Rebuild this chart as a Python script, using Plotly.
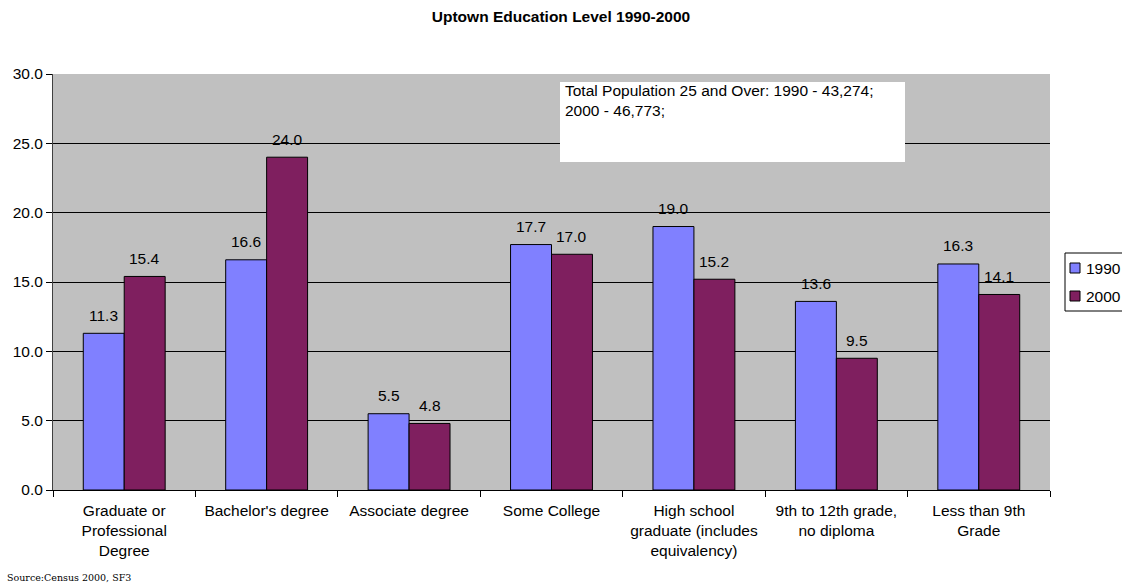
import plotly.graph_objects as go

categories = [
    "Graduate or<br>Professional<br>Degree",
    "Bachelor's degree",
    "Associate degree",
    "Some College",
    "High school<br>graduate (includes<br>equivalency)",
    "9th to 12th grade,<br>no diploma",
    "Less than 9th<br>Grade",
]
values_1990 = [11.3, 16.6, 5.5, 17.7, 19.0, 13.6, 16.3]
values_2000 = [15.4, 24.0, 4.8, 17.0, 15.2, 9.5, 14.1]
y_ticks = [0, 5, 10, 15, 20, 25, 30]

W, H = 1122, 586
L, R, T, B = 53, 1050, 74, 490
FONT = "Liberation Sans, Arial, sans-serif"
FS = 15.5
BARGAP = 0.425


def px_x(x):
    return (x - L) / (R - L)


def px_y(y):
    return (B - y) / (B - T)


series = [
    ("1990", values_1990, "#8080FF"),
    ("2000", values_2000, "#7F1F5F"),
]

fig = go.Figure()
for name, vals, color in series:
    fig.add_trace(go.Bar(
        name=name, x=categories, y=vals,
        marker=dict(color=color, line=dict(color="#000000", width=1)),
        showlegend=False,
    ))

# value labels above each bar, offset to the bar's slot within its group
cat_px = (R - L) / len(categories)
bar_px = cat_px * (1 - BARGAP) / len(series)
for i, (name, vals, color) in enumerate(series):
    offset = (i - (len(series) - 1) / 2) * bar_px
    for cat, v in zip(categories, vals):
        fig.add_annotation(
            x=cat, y=v, xref="x", yref="y",
            text=f"{v:.1f}", showarrow=False,
            xshift=offset, yshift=18,
            xanchor="center", yanchor="middle",
            font=dict(family=FONT, size=FS, color="#000000"),
        )

# compact key box at the right edge: swatch + series name per row
key_left, key_top, row_h = 1065, 253, 28
fig.add_shape(
    type="rect", xref="paper", yref="paper",
    x0=px_x(key_left), x1=px_x(W + 5),
    y0=px_y(key_top + row_h * len(series) + 2), y1=px_y(key_top),
    fillcolor="#FFFFFF", line=dict(color="#000000", width=1), layer="above",
)
for i, (name, vals, color) in enumerate(series):
    cy = key_top + 15 + i * row_h
    fig.add_shape(
        type="rect", xref="paper", yref="paper",
        x0=px_x(key_left + 5), x1=px_x(key_left + 15),
        y0=px_y(cy + 5), y1=px_y(cy - 5),
        fillcolor=color, line=dict(color="#000000", width=1), layer="above",
    )
    fig.add_annotation(
        xref="paper", yref="paper",
        x=px_x(key_left + 19), y=px_y(cy),
        xanchor="left", yanchor="middle",
        text=name, showarrow=False,
        font=dict(family=FONT, size=FS, color="#000000"),
    )

fig.update_layout(
    width=W, height=H,
    margin=dict(l=L, r=W - R, t=T, b=H - B, autoexpand=False),
    paper_bgcolor="#FFFFFF",
    plot_bgcolor="#C0C0C0",
    barmode="group",
    bargap=BARGAP,
    bargroupgap=0,
    font=dict(family=FONT, size=FS, color="#000000"),
    title=dict(
        text="<b>Uptown Education Level 1990-2000</b>",
        x=0.5, xref="container", xanchor="center",
        y=1 - 17 / H, yref="container", yanchor="middle",
        font=dict(family=FONT, size=15.5, color="#000000"),
    ),
    showlegend=False,
)

fig.update_yaxes(
    range=[0, 30], tickvals=y_ticks,
    ticktext=[f"{v:.1f}" for v in y_ticks],
    showgrid=True, gridcolor="#000000", gridwidth=1,
    ticks="outside", ticklen=6, tickcolor="#000000",
    showline=True, linecolor="#404040", linewidth=1,
    zeroline=False,
    tickfont=dict(family=FONT, size=FS),
)
fig.update_xaxes(
    showline=True, linecolor="#000000", linewidth=1,
    ticks="outside", ticklen=6, tickcolor="#000000",
    tickson="boundaries",
    showgrid=False,
    tickfont=dict(family=FONT, size=FS),
    ticklabelstandoff=6,
)

# white note box with population totals
fig.add_shape(
    type="rect", xref="paper", yref="paper",
    x0=px_x(560), x1=px_x(905), y0=px_y(162), y1=px_y(82),
    fillcolor="#FFFFFF", line=dict(width=0), layer="above",
)
fig.add_annotation(
    xref="paper", yref="paper",
    x=px_x(563), y=px_y(80),
    xanchor="left", yanchor="top",
    text="Total Population 25 and Over: 1990 - 43,274;<br>2000 - 46,773;",
    align="left", showarrow=False,
    font=dict(family=FONT, size=FS, color="#000000"),
)

fig.add_annotation(
    xref="paper", yref="paper",
    x=px_x(5), y=px_y(577),
    xanchor="left", yanchor="middle",
    text="Source:Census 2000, SF3",
    showarrow=False,
    font=dict(family="DejaVu Serif, Liberation Serif, serif", size=9.5,
              color="#000000"),
)

fig.write_html("out.html")
